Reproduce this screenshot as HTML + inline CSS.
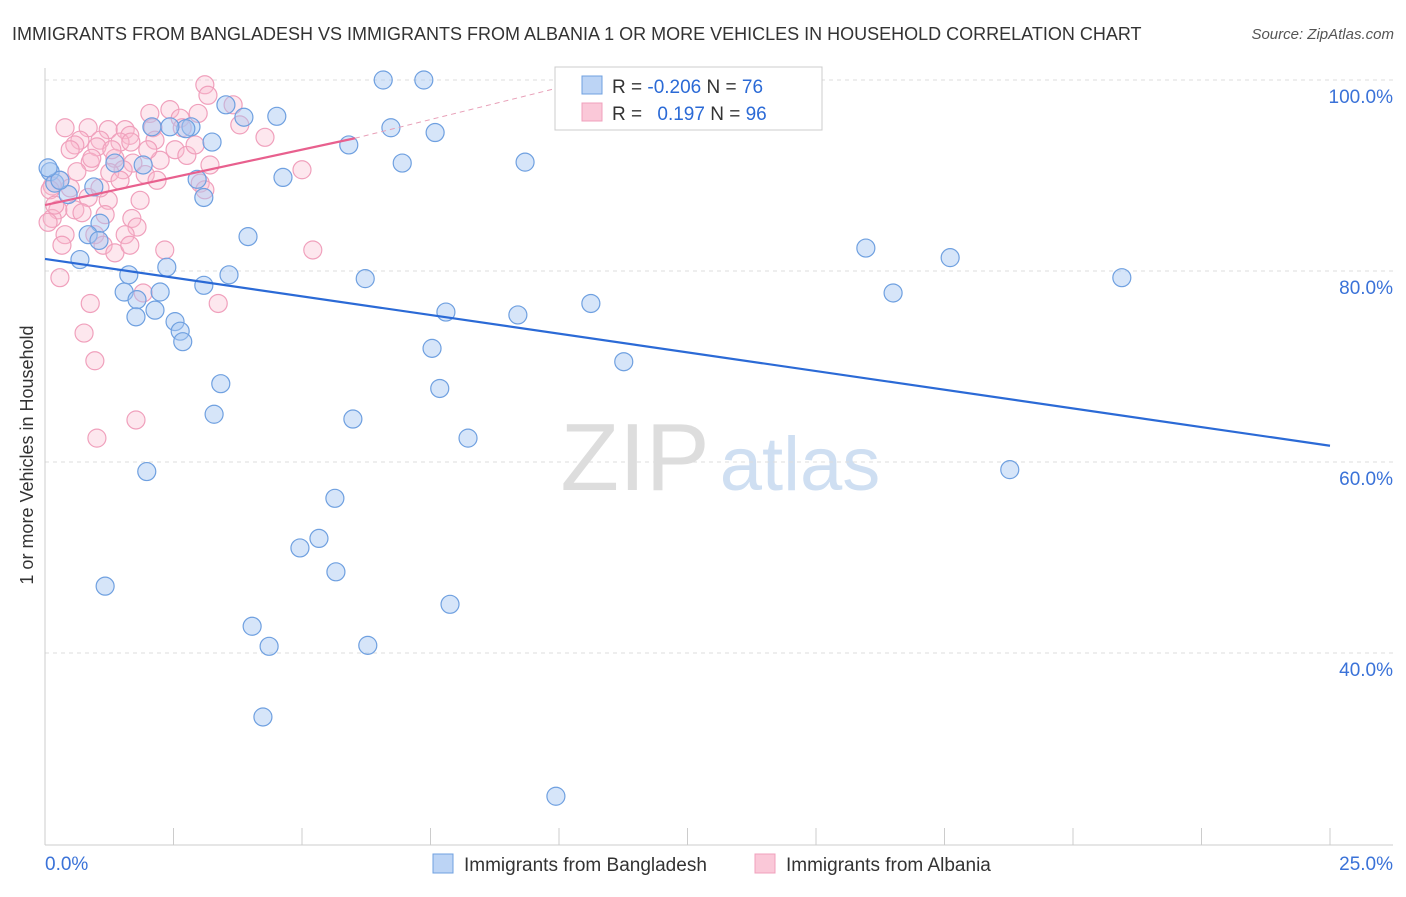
<!DOCTYPE html>
<html><head><meta charset="utf-8"><style>
body{margin:0;background:#fff;font-family:"Liberation Sans",sans-serif;}
svg text{font-family:"Liberation Sans",sans-serif;}
</style></head><body>
<svg id="chart" width="1406" height="892" xmlns="http://www.w3.org/2000/svg">
<text x="12" y="40" font-size="18" fill="#333">IMMIGRANTS FROM BANGLADESH VS IMMIGRANTS FROM ALBANIA 1 OR MORE VEHICLES IN HOUSEHOLD CORRELATION CHART</text>
<text x="1394" y="39" font-size="15" fill="#555" text-anchor="end" font-style="italic">Source: ZipAtlas.com</text>
<g>
<text x="635" y="490" font-size="96" fill="#ddd" text-anchor="middle" font-family="Liberation Serif">ZIP</text>
<text x="800" y="490" font-size="76" fill="#cfdff2" text-anchor="middle">atlas</text>
</g>
<g id="grid"></g>
<g id="axes"></g>
<g id="marks"></g>
<text transform="translate(33,455) rotate(-90)" font-size="18" fill="#333" text-anchor="middle">1 or more Vehicles in Household</text>
<g>
<rect x="555" y="67" width="267" height="63" fill="#fff" stroke="#ccc"/>
<rect x="582" y="76" width="20" height="18" fill="#bcd4f5" stroke="#6fa0e0"/>
<rect x="582" y="103" width="20" height="18" fill="#fac8d8" stroke="#f0a0bc"/>
<text x="612" y="93" font-size="19" fill="#333">R = <tspan fill="#2b6ad6">-0.206</tspan>   N = <tspan fill="#2b6ad6">76</tspan></text>
<text x="612" y="120" font-size="19" fill="#333">R =  <tspan fill="#2b6ad6" dx="10">0.197</tspan>   N = <tspan fill="#2b6ad6">96</tspan></text>
</g>
<g>
<rect x="433" y="854" width="20" height="19" fill="#bcd4f5" stroke="#6fa0e0"/>
<text x="464" y="871" font-size="19" fill="#333">Immigrants from Bangladesh</text>
<rect x="755" y="854" width="20" height="19" fill="#fac8d8" stroke="#f0a0bc"/>
<text x="786" y="871" font-size="19" fill="#333">Immigrants from Albania</text>
</g>
</svg>
<script>
const yTicks=[100,80,60,40];
const yTickLabels=["100.0%","80.0%","60.0%","40.0%"];
const xEndLabels=["0.0%","25.0%"];
const blueX=[6.58,7.37,4.51,3.87,3.52,2.84,2.74,2.43,2.08,3.25,5.91,6.73,7.59,6.95,9.34,1.91,1.36,4.63,2.96,3.09,0.95,0.45,0.10,0.19,0.29,1.07,0.84,1.05,3.95,0.68,2.37,1.63,3.58,3.09,1.54,2.24,1.79,6.23,2.14,1.77,2.53,2.63,2.68,7.80,9.20,10.62,15.97,17.61,20.95,16.50,7.53,11.26,3.42,7.68,3.29,5.99,8.23,1.98,18.77,5.64,5.33,4.96,5.66,1.17,7.88,4.03,4.36,6.28,4.24,9.94,0.06];
const blueY=[100,100,96.2,96.1,97.4,95.1,94.9,95.1,95.1,93.5,93.2,95.0,94.5,91.3,91.4,91.1,91.3,89.8,89.6,87.7,88.8,88.0,90.4,89.2,89.5,85.0,83.8,83.2,83.6,81.2,80.4,79.6,79.6,78.5,77.8,77.8,77.0,79.2,75.9,75.2,74.7,73.7,72.6,75.7,75.4,76.6,82.4,81.4,79.3,77.7,71.9,70.5,68.2,67.7,65.0,64.5,62.5,59.0,59.2,56.2,52.0,51.0,48.5,47.0,45.1,42.8,40.7,40.8,33.3,25.0,90.8];
const pinkX=[3.11,3.17,3.66,2.43,2.98,2.04,2.63,3.79,2.10,0.39,0.84,1.23,1.56,1.65,4.28,0.68,1.07,0.58,1.46,1.01,1.67,0.49,2.14,2.53,2.76,2.24,1.36,0.88,1.71,3.21,5.00,1.52,1.26,1.95,2.18,3.02,0.29,0.14,0.10,0.49,0.84,1.23,0.25,0.58,1.17,0.72,0.14,0.06,1.69,1.79,1.56,0.39,0.97,1.13,1.36,1.65,2.33,5.21,0.29,0.88,1.91,3.37,0.76,0.97,1.77,1.01,1.46,1.30,2.00,1.07,3.11,0.62,0.19,1.85,2.67,2.92,0.91,0.33];
const pinkY=[99.5,98.4,97.4,96.9,96.5,96.5,96.0,95.3,95.0,95.0,95.0,94.8,94.8,94.2,94.0,93.7,93.7,93.2,93.5,93.0,93.5,92.7,93.7,92.7,92.1,91.6,91.8,91.4,91.3,91.1,90.6,90.6,90.3,90.1,89.5,89.2,89.5,88.9,88.5,88.7,87.7,87.4,86.4,86.4,85.9,86.1,85.5,85.1,85.5,84.6,83.8,83.8,83.8,82.7,81.9,82.7,82.2,82.2,79.3,76.6,77.7,76.6,73.5,70.6,64.4,62.5,89.5,92.7,92.7,88.7,88.5,90.4,86.9,87.4,95.0,93.2,91.8,82.7];
const blueTrend=[[0,81.26],[25,61.7]];
const pinkTrend=[[0,86.9],[6.03,93.9]];
const pinkTrendExt=[[6.03,93.9],[10.6,100]];

const NS="http://www.w3.org/2000/svg";
const sx=v=>45+v*51.4;
const sy=v=>80+(100-v)*9.55;
function mk(tag,attrs,parent){const e=document.createElementNS(NS,tag);for(const k in attrs)e.setAttribute(k,attrs[k]);parent.appendChild(e);return e;}
const grid=document.getElementById('grid'),axes=document.getElementById('axes'),marks=document.getElementById('marks');
yTicks.forEach((t,i)=>{
  const l=mk('line',{x1:45,x2:1393,y1:sy(t),y2:sy(t),stroke:'#ddd','stroke-dasharray':'4,4'},grid);
  
  
  const tx=mk('text',{x:1393,y:sy(t)+23,'font-size':19,fill:'#3a72d8','text-anchor':'end'},axes);
  tx.textContent=yTickLabels[i];
  
  
});
const ya=mk('line',{x1:45,x2:45,y1:68,y2:845,stroke:'#ccc'},axes);


const xa=mk('line',{x1:45,x2:1393,y1:845,y2:845,stroke:'#ccc'},axes);


for(let i=0;i<=10;i++){
  const t=mk('line',{x1:sx(i*2.5),x2:sx(i*2.5),y1:828,y2:845,stroke:'#ccc'},axes);
  
  
}
[[0,'start',45],[25,'end',1393]].forEach((d,i)=>{
  const tx=mk('text',{x:d[2],y:870,'font-size':19,fill:'#3a72d8','text-anchor':d[1]},axes);
  tx.textContent=xEndLabels[i];
  
  
});
function pts(xs,ys,fill,stroke,name){
  xs.forEach((x,i)=>{
    const c=mk('circle',{cx:sx(x),cy:sy(ys[i]),r:9,fill:fill,stroke:stroke,'stroke-width':1.2},marks);
    
    
  });
}
pts(pinkX,pinkY,'rgba(248,185,205,0.35)','#f0a0bc','albania-point');
pts(blueX,blueY,'rgba(165,198,242,0.45)','#6fa0e0','bangladesh-point');
function line(p,stroke,w,dash,name){
  const l=mk('line',{x1:sx(p[0][0]),y1:sy(p[0][1]),x2:sx(p[1][0]),y2:sy(p[1][1]),stroke:stroke,'stroke-width':w},marks);
  if(dash)l.setAttribute('stroke-dasharray',dash);
  
  
}
line(blueTrend,'#2b6ad6',2.2,null,'bangladesh-trendline');
line(pinkTrend,'#e8608e',2.2,null,'albania-trendline');
line(pinkTrendExt,'#e8a0b8',1,'5,4','albania-trendline-extension');
</script>
</body></html>
